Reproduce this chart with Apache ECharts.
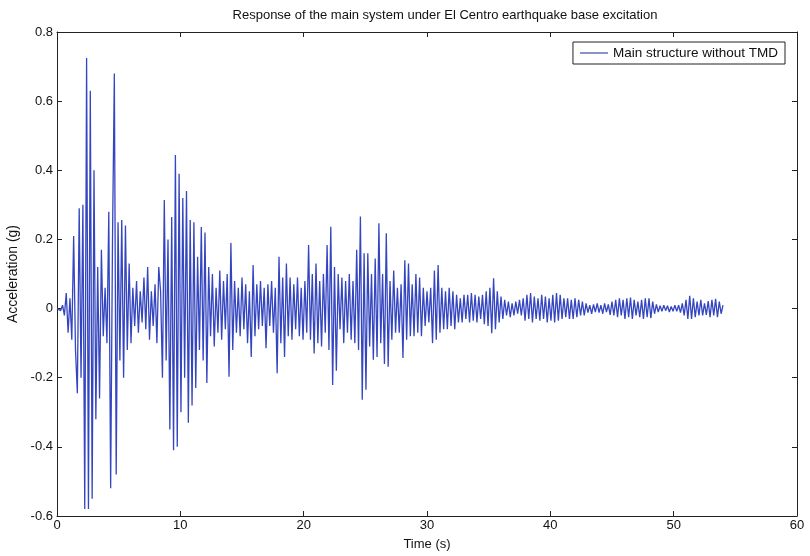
<!DOCTYPE html>
<html>
<head>
<meta charset="utf-8">
<title>Response of the main system under El Centro earthquake base excitation</title>
<script src="https://cdn.jsdelivr.net/npm/echarts@6/dist/echarts.min.js"></script>
<style>
  html, body { margin: 0; padding: 0; background: #ffffff; }
  #chart { width: 810px; height: 556px; }
</style>
</head>
<body>
<div id="chart"></div>
<script>
// Sampling step of the recorded response (s)
const dt = 0.15;

// Acceleration of the main structure without TMD (g), one row per 3 s of record
const accel = [
  // 0 - 2.85 s
  0, 0.004, -0.006, 0.01, -0.02, 0.045, -0.07, 0.03, -0.09, 0.21, -0.12, -0.245, 0.29, -0.2, 0.3, -0.58, 0.725, -0.58, 0.63, -0.55,
  // 3 - 5.85 s
  0.40, -0.32, 0.12, -0.26, 0.17, -0.08, 0.06, -0.10, 0.28, -0.52, 0.20, 0.68, -0.48, 0.25, -0.15, 0.256, -0.20, 0.24, -0.12, 0.13,
  // 6 - 8.85 s
  -0.10, 0.06, -0.05, 0.08, -0.07, 0.05, -0.04, 0.09, -0.06, 0.12, -0.09, 0.05, -0.05, 0.07, -0.10, 0.12, 0.05, -0.20, 0.314, -0.15,
  // 9 - 11.85 s
  0.20, -0.35, 0.265, -0.41, 0.444, -0.40, 0.39, -0.30, 0.32, -0.20, 0.34, -0.33, 0.256, -0.28, 0.25, -0.23, 0.15, -0.12, 0.236, -0.15,
  // 12 - 14.85 s
  0.22, -0.215, 0.12, -0.08, 0.10, -0.11, 0.06, -0.07, 0.11, -0.09, 0.08, -0.06, 0.10, -0.197, 0.19, -0.12, 0.08, -0.07, 0.06, -0.08,
  // 15 - 17.85 s
  0.09, -0.06, 0.07, -0.10, 0.05, -0.14, 0.126, -0.08, 0.07, -0.06, 0.08, -0.05, 0.06, -0.115, 0.07, -0.05, 0.08, -0.07, 0.06, -0.187,
  // 18 - 20.85 s
  0.15, -0.10, 0.09, -0.14, 0.13, -0.08, 0.09, -0.09, 0.07, -0.06, 0.09, -0.08, 0.06, -0.09, 0.08, -0.07, 0.184, -0.09, 0.10, -0.13,
  // 21 - 23.85 s
  0.13, -0.10, 0.08, -0.11, 0.10, -0.07, 0.184, -0.12, 0.237, -0.221, 0.12, -0.18, 0.10, -0.06, 0.09, -0.10, 0.08, -0.07, 0.10, -0.09,
  // 24 - 26.85 s
  0.08, -0.10, 0.17, -0.12, 0.266, -0.264, 0.16, -0.235, 0.16, -0.11, 0.10, -0.148, 0.145, -0.14, 0.247, -0.10, 0.10, -0.16, 0.218, -0.168,
  // 27 - 29.85 s
  0.08, -0.09, 0.11, -0.07, 0.06, -0.07, 0.07, -0.143, 0.14, -0.09, 0.13, -0.08, 0.07, -0.08, 0.10, -0.07, 0.09, -0.08, 0.06, -0.05,
  // 30 - 32.85 s
  0.05, -0.04, 0.06, -0.10, 0.11, -0.09, 0.126, -0.07, 0.06, -0.06, 0.05, -0.06, 0.06, -0.05, 0.05, -0.06, 0.04, -0.04, 0.03, -0.04,
  // 33 - 35.85 s
  0.04, -0.03, 0.04, -0.04, 0.045, -0.035, 0.04, -0.04, 0.035, -0.03, 0.04, -0.045, 0.05, -0.05, 0.06, -0.071, 0.088, -0.06, 0.05, -0.04,
  // 36 - 38.85 s
  0.035, -0.03, 0.025, -0.02, 0.02, -0.025, 0.015, -0.02, 0.02, -0.015, 0.025, -0.02, 0.03, -0.035, 0.04, -0.03, 0.045, -0.04, 0.035, -0.03,
  // 39 - 41.85 s
  0.03, -0.035, 0.04, -0.03, 0.035, -0.04, 0.03, -0.035, 0.04, -0.04, 0.045, -0.035, 0.04, -0.03, 0.03, -0.025, 0.03, -0.03, 0.025, -0.03,
  // 42 - 44.85 s
  0.03, -0.025, 0.025, -0.02, 0.02, -0.02, 0.015, -0.012, 0.01, -0.015, 0.012, -0.01, 0.015, -0.012, 0.01, -0.015, 0.015, -0.01, 0.012, -0.018,
  // 45 - 47.85 s
  0.02, -0.02, 0.025, -0.025, 0.03, -0.02, 0.025, -0.03, 0.03, -0.025, 0.032, -0.03, 0.025, -0.02, 0.02, -0.025, 0.025, -0.03, 0.03, -0.025,
  // 48 - 50.85 s
  0.03, -0.028, 0.02, -0.015, 0.012, -0.01, 0.008, -0.008, 0.01, -0.006, 0.008, -0.01, 0.006, -0.008, 0.01, -0.008, 0.01, -0.012, 0.015, -0.02,
  // 51 - 54 s
  0.025, -0.03, 0.037, -0.03, 0.03, -0.025, 0.02, -0.02, 0.025, -0.02, 0.015, -0.018, 0.022, -0.025, 0.025, -0.02, 0.028, -0.025, 0.02, -0.015, 0.01
];

// Axis ranges and tick spacing
const timeRange = [0, 60, 10];
const accelRange = [-0.6, 0.8, 0.2];

const seriesName = 'Main structure without TMD';
const titleText = 'Response of the main system under El Centro earthquake base excitation';
const xName = 'Time (s)';
const yName = 'Acceleration (g)';

const points = accel.map((v, i) => [+(i * dt).toFixed(2), v]);

const font = '"Liberation Sans", Arial, Helvetica, sans-serif';
const axisColor = '#222222';
const textColor = '#111111';
const legendLineColor = '#8a93c8';

const chart = echarts.init(document.getElementById('chart'), null, { renderer: 'canvas' });

const baseAxis = {
  axisLine: { show: true, onZero: false, lineStyle: { color: axisColor, width: 1 } },
  axisTick: { show: true, inside: true, length: 5, lineStyle: { color: axisColor, width: 1 } },
  splitLine: { show: false }
};

chart.setOption({
  animation: false,
  backgroundColor: '#ffffff',
  title: {
    text: titleText,
    left: 440,
    textAlign: 'center',
    top: 4,
    textStyle: { fontFamily: font, fontSize: 13, fontWeight: 'normal', color: textColor }
  },
  legend: {
    data: [{
      name: seriesName,
      icon: 'rect',
      itemStyle: { color: legendLineColor, borderWidth: 0 }
    }],
    right: 25,
    top: 42,
    orient: 'vertical',
    padding: [4, 7, 4, 7],
    itemWidth: 28,
    itemHeight: 2,
    itemGap: 0,
    borderColor: '#222',
    borderWidth: 1,
    backgroundColor: '#ffffff',
    textStyle: { fontFamily: font, fontSize: 13.5, color: textColor }
  },
  grid: { left: 57, right: 13, top: 32, bottom: 40, containLabel: false, outerBoundsMode: 'none' },
  xAxis: [
    Object.assign({}, baseAxis, {
      type: 'value',
      min: timeRange[0], max: timeRange[1], interval: timeRange[2],
      position: 'bottom',
      name: xName,
      nameLocation: 'middle',
      nameGap: 22,
      nameTextStyle: { fontFamily: font, fontSize: 13, color: textColor },
      axisLabel: { fontFamily: font, fontSize: 13, color: textColor, margin: 3 }
    }),
    Object.assign({}, baseAxis, {
      type: 'value',
      min: timeRange[0], max: timeRange[1], interval: timeRange[2],
      position: 'top',
      axisLabel: { show: false }
    })
  ],
  yAxis: [
    Object.assign({}, baseAxis, {
      type: 'value',
      min: accelRange[0], max: accelRange[1], interval: accelRange[2],
      position: 'left',
      name: yName,
      nameLocation: 'middle',
      nameGap: 30,
      nameTextStyle: { fontFamily: font, fontSize: 14, color: textColor },
      axisLabel: {
        fontFamily: font, fontSize: 13, color: textColor, margin: 4,
        formatter: v => String(+v.toFixed(1))
      }
    }),
    Object.assign({}, baseAxis, {
      type: 'value',
      min: accelRange[0], max: accelRange[1], interval: accelRange[2],
      position: 'right',
      axisLabel: { show: false }
    })
  ],
  series: [{
    name: seriesName,
    type: 'line',
    xAxisIndex: 0,
    yAxisIndex: 0,
    data: points,
    showSymbol: false,
    symbol: 'none',
    lineStyle: { color: '#3445c0', width: 1.3 },
    z: 2
  }]
});
</script>
</body>
</html>
